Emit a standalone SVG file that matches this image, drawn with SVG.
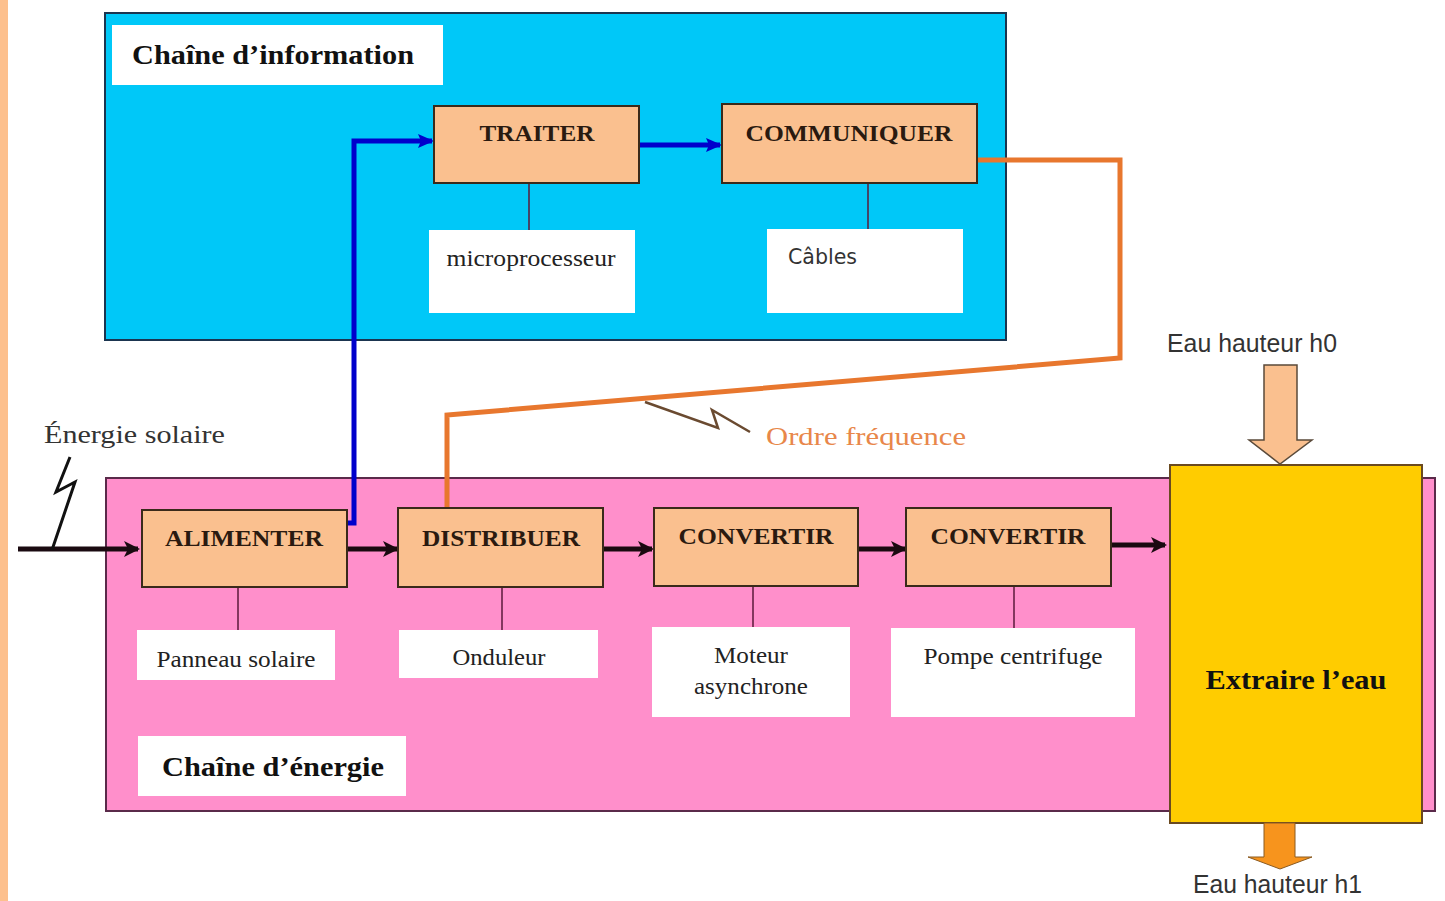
<svg xmlns="http://www.w3.org/2000/svg" width="1445" height="901" viewBox="0 0 1445 901">
<style>
.func{fill:#FAC08F;stroke:#3a2a1a;stroke-width:2}
.sub{fill:#FFFFFF;stroke:none}
.ft{font-family:"Liberation Serif",serif;font-weight:bold;font-size:23px;fill:#2a1a10;text-anchor:middle}
.st{font-family:"Liberation Serif",serif;font-size:23px;fill:#222;text-anchor:middle}
.lab{font-family:"Liberation Serif",serif;font-weight:bold;font-size:28px;fill:#111}
.sans{font-family:"Liberation Sans",sans-serif;font-size:25px;fill:#333}
.link{stroke:#5a1a3a;stroke-width:1.5;fill:none}
.flow{stroke:#1a0a10;stroke-width:5;fill:none}
</style>
<defs>
<marker id="ah" markerUnits="userSpaceOnUse" markerWidth="20" markerHeight="20" refX="14" refY="8" orient="auto">
<path d="M0,0 L16,8 L0,16 L4,8 Z" fill="#1a0a10"/>
</marker>
<marker id="ahb" markerUnits="userSpaceOnUse" markerWidth="20" markerHeight="20" refX="14" refY="8" orient="auto">
<path d="M0,1 L16,8 L0,15 L3,8 Z" fill="#0000CC"/>
</marker>
</defs>
<rect x="0" y="0" width="1445" height="901" fill="#FFFFFF"/>
<rect x="0" y="0" width="8" height="901" fill="#FDC08D"/>

<g id="chaine-information">
<rect x="105" y="13" width="901" height="327" fill="#00C8F8" stroke="#1b3550" stroke-width="2"/>
<rect x="112" y="25" width="331" height="60" fill="#FFFFFF"/>
<text class="lab" x="132" y="64" font-size="27" textLength="282" lengthAdjust="spacingAndGlyphs">Chaîne d’information</text>
</g>

<g id="chaine-energie">
<rect x="106" y="478" width="1329" height="333" fill="#FF8FCB" stroke="#5a2a4a" stroke-width="2"/>
<rect x="138" y="736" width="268" height="60" fill="#FFFFFF"/>
<text class="lab" x="162" y="776" textLength="222" lengthAdjust="spacingAndGlyphs">Chaîne d’énergie</text>
</g>

<g id="connectors">
<line class="link" x1="529" y1="183" x2="529" y2="230" stroke="#1a2a3a"/>
<line class="link" x1="868" y1="183" x2="868" y2="229" stroke="#1a2a3a"/>
<line class="link" x1="238" y1="587" x2="238" y2="630"/>
<line class="link" x1="502" y1="587" x2="502" y2="630"/>
<line class="link" x1="753" y1="586" x2="753" y2="627"/>
<line class="link" x1="1014" y1="586" x2="1014" y2="628"/>
<polyline points="347,523 354,523 354,141 432,141" fill="none" stroke="#0000CC" stroke-width="5" marker-end="url(#ahb)"/>
<line x1="639" y1="145" x2="720" y2="145" stroke="#0000CC" stroke-width="5" marker-end="url(#ahb)"/>
<polyline points="977,160 1120,160 1120,358 447,415 447,508" fill="none" stroke="#E8772E" stroke-width="5"/>
<polyline points="645,402 718,428 712,410 750,432" fill="none" stroke="#6a4a30" stroke-width="2.5"/>
<line class="flow" x1="18" y1="549" x2="138" y2="549" marker-end="url(#ah)"/>
<polyline points="70,457 56,492 75,482 52,550" fill="none" stroke="#111" stroke-width="3"/>
<line class="flow" x1="347" y1="549" x2="397" y2="549" marker-end="url(#ah)"/>
<line class="flow" x1="603" y1="549" x2="652" y2="549" marker-end="url(#ah)"/>
<line class="flow" x1="858" y1="549" x2="905" y2="549" marker-end="url(#ah)"/>
<line class="flow" x1="1111" y1="545" x2="1165" y2="545" marker-end="url(#ah)"/>
</g>

<g id="traiter">
<rect class="func" x="434" y="106" width="205" height="77" stroke="#1a2a2a"/>
<text class="ft" x="537" y="141" textLength="115" lengthAdjust="spacingAndGlyphs">TRAITER</text>
</g>
<g id="communiquer">
<rect class="func" x="722" y="104" width="255" height="79" stroke="#1a2a2a"/>
<text class="ft" x="849" y="141" textLength="207" lengthAdjust="spacingAndGlyphs">COMMUNIQUER</text>
</g>
<g id="microprocesseur">
<rect class="sub" x="429" y="230" width="206" height="83"/>
<text class="st" x="531" y="266" textLength="169" lengthAdjust="spacingAndGlyphs">microprocesseur</text>
</g>
<g id="cables">
<rect class="sub" x="767" y="229" width="196" height="84"/>
<text x="788" y="264" font-family="'DejaVu Sans',sans-serif" font-size="22" fill="#333" textLength="69" lengthAdjust="spacingAndGlyphs">Câbles</text>
</g>

<g id="alimenter">
<rect class="func" x="142" y="510" width="205" height="77"/>
<text class="ft" x="244" y="546" textLength="158" lengthAdjust="spacingAndGlyphs">ALIMENTER</text>
</g>
<g id="distribuer">
<rect class="func" x="398" y="508" width="205" height="79"/>
<text class="ft" x="501" y="546" textLength="158" lengthAdjust="spacingAndGlyphs">DISTRIBUER</text>
</g>
<g id="convertir1">
<rect class="func" x="654" y="508" width="204" height="78"/>
<text class="ft" x="756" y="544" textLength="155" lengthAdjust="spacingAndGlyphs">CONVERTIR</text>
</g>
<g id="convertir2">
<rect class="func" x="906" y="508" width="205" height="78"/>
<text class="ft" x="1008" y="544" textLength="155" lengthAdjust="spacingAndGlyphs">CONVERTIR</text>
</g>
<g id="panneau">
<rect class="sub" x="137" y="630" width="198" height="50"/>
<text class="st" x="236" y="667" textLength="159" lengthAdjust="spacingAndGlyphs">Panneau solaire</text>
</g>
<g id="onduleur">
<rect class="sub" x="399" y="630" width="199" height="48"/>
<text class="st" x="499" y="665" textLength="93" lengthAdjust="spacingAndGlyphs">Onduleur</text>
</g>
<g id="moteur">
<rect class="sub" x="652" y="627" width="198" height="90"/>
<text class="st" x="751" y="663" textLength="74" lengthAdjust="spacingAndGlyphs">Moteur</text>
<text class="st" x="751" y="694" textLength="114" lengthAdjust="spacingAndGlyphs">asynchrone</text>
</g>
<g id="pompe">
<rect class="sub" x="891" y="628" width="244" height="89"/>
<text class="st" x="1013" y="664" textLength="179" lengthAdjust="spacingAndGlyphs">Pompe centrifuge</text>
</g>

<g id="extraire">
<rect x="1170" y="465" width="252" height="358" fill="#FFCC00" stroke="#6a4a20" stroke-width="2"/>
<text class="lab" x="1296" y="689" text-anchor="middle" font-size="26" textLength="181" lengthAdjust="spacingAndGlyphs">Extraire l’eau</text>
</g>

<g id="eau-h0">
<text class="sans" x="1167" y="352" textLength="170" lengthAdjust="spacingAndGlyphs">Eau hauteur h0</text>
<path d="M1264,365 L1297,365 L1297,440 L1312,440 L1280,464 L1249,440 L1264,440 Z" fill="#FAC08F" stroke="#5a4a3a" stroke-width="1.5"/>
</g>
<g id="eau-h1">
<path d="M1264,823 L1295,823 L1295,857 L1312,857 L1280,869 L1248,857 L1264,857 Z" fill="#F7941D" stroke="#8a5a20" stroke-width="1"/>
<text class="sans" x="1193" y="893" textLength="169" lengthAdjust="spacingAndGlyphs">Eau hauteur h1</text>
</g>

<g id="energie-solaire">
<text x="44" y="443" font-family="'Liberation Serif',serif" font-size="26" fill="#333" textLength="181" lengthAdjust="spacingAndGlyphs">Énergie solaire</text>
</g>
<g id="ordre-frequence">
<text x="766" y="445" font-family="'Liberation Serif',serif" font-size="26" fill="#E8874A" textLength="200" lengthAdjust="spacingAndGlyphs">Ordre fréquence</text>
</g>
</svg>
